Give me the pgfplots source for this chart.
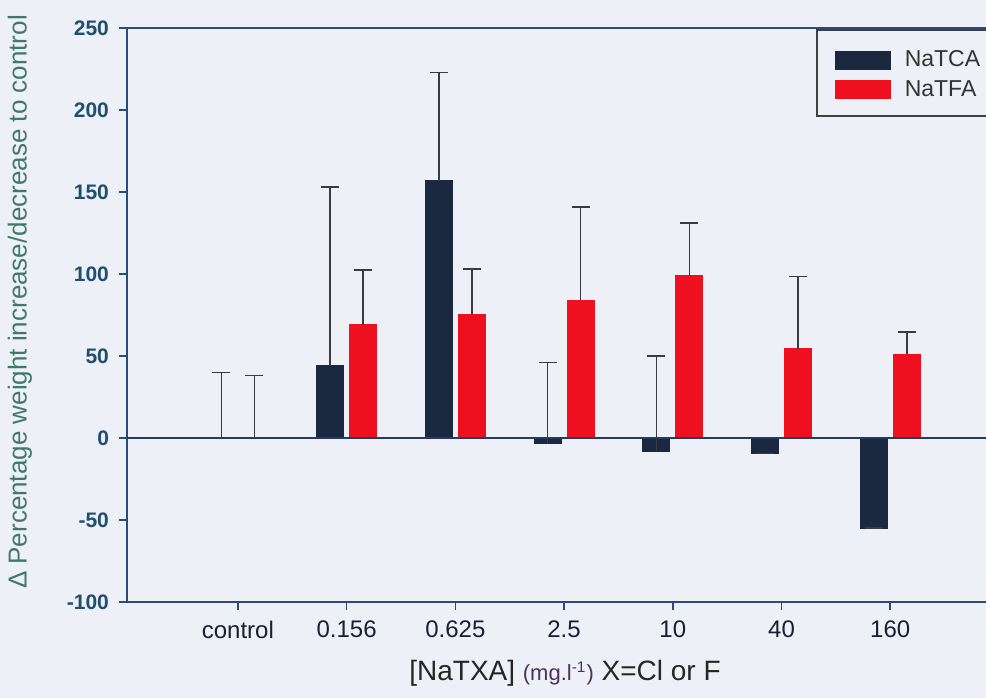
\documentclass[border=0pt]{standalone}
\usepackage{fontspec}
\setmainfont{Liberation Sans}
\usepackage{pgfplots}
\usepackage{pgfplotstable}
\pgfplotsset{compat=1.18}

\definecolor{bgc}{HTML}{EEF0F8}
\definecolor{navybar}{HTML}{1B2940}
\definecolor{redbar}{HTML}{EE0F1F}
\definecolor{errc}{HTML}{3A3A40}
\definecolor{axisc}{HTML}{2D4A7E}
\definecolor{ytickc}{HTML}{1F4F6F}
\definecolor{ylabc}{HTML}{3F7A68}
\definecolor{xtickc}{HTML}{1A2030}
\definecolor{unitc}{HTML}{4A3558}

% x = concentration group, y = % change, ey = upper error
\pgfplotstableread{
x y ey
0 0 40
1 44 109
2 157 66
3 -3.5 49.5
4 -8 58
5 -9.5 0
6 -55 0
}\tca
\pgfplotstableread{
x y ey
0 0 38
1 69 33.5
2 75.5 27.5
3 84 57
4 99 32
5 54.5 44
6 51 13.5
}\tfa

\begin{document}
\begin{tikzpicture}
\fill[bgc] (-63.5pt,-48pt) rectangle (429.5pt,301pt);
\begin{axis}[
    scale only axis,
    width=430pt, height=287pt,
    xmin=-1.02, xmax=6.89,
    ymin=-100, ymax=250,
    ytick={-100,-50,0,50,100,150,200,250},
    xtick={0,...,6},
    xticklabels={control,0.156,0.625,2.5,10,40,160},
    axis x line*=box,
    axis y line*=left,
    xtick pos=bottom, ytick pos=left,
    tick align=outside,
    major tick length=4pt,
    axis line style={draw=axisc, line width=1pt},
    tick style={draw=axisc, line width=0.8pt},
    yticklabel style={font=\fontsize{10.5}{12}\selectfont\bfseries, text=ytickc, xshift=-1.5pt},
    xticklabel style={font=\fontsize{12}{14}\selectfont, text=xtickc, yshift=-2pt},
    /pgf/number format/assume math mode=true,
    ylabel={Δ Percentage weight increase/decrease to control},
    ylabel style={at={(axis description cs:-0.1244,0.5226)}, anchor=center,
        font=\fontsize{13}{15}\selectfont, text=ylabc},
    xlabel={[NaTXA] {\fontsize{11}{13}\selectfont\color{unitc}(mg.l\textsuperscript{-1})} X=Cl or F},
    xlabel style={at={(axis description cs:0.5093,-0.1359)}, anchor=base,
        font=\fontsize{14}{16}\selectfont, text=black!85},
    ybar,
    bar width=0.248,
    legend style={at={(axis description cs:0.8023,0.9965)}, anchor=north west,
        draw=none, fill=none,
        font=\fontsize{11.5}{13}\selectfont, text=black!80,
        inner xsep=9pt, inner ysep=10pt, row sep=5.25pt,
        nodes={inner sep=0pt, text height=8.2pt, text depth=0.3pt}},
    legend cell align=left,
    clip=false,
]
\addplot[fill=navybar, draw=navybar, bar shift=-0.152,
    error bars/.cd, y dir=plus, y explicit,
    error bar style={line width=0.75pt, draw=errc},
    error mark options={rotate=90, mark size=4.5pt, line width=0.75pt, draw=errc},
    /pgfplots/legend image code/.code={\fill[navybar] (0pt,-5pt) rectangle (27.5pt,3.75pt);
        \path[draw=none, fill=none] (0pt,0pt) rectangle (34.5pt,0.1pt);}]
    table[x=x, y=y, y error plus=ey] {\tca};
\addlegendentry{NaTCA}
\addplot[fill=redbar, draw=redbar, bar shift=0.152,
    error bars/.cd, y dir=plus, y explicit,
    error bar style={line width=0.75pt, draw=errc},
    error mark options={rotate=90, mark size=4.5pt, line width=0.75pt, draw=errc},
    /pgfplots/legend image code/.code={\fill[redbar] (0pt,-5pt) rectangle (27.5pt,3.75pt);
        \path[draw=none, fill=none] (0pt,0pt) rectangle (34.5pt,0.1pt);}]
    table[x=x, y=y, y error plus=ey] {\tfa};
\addlegendentry{NaTFA}
\draw[axisc!80!black, line width=0.75pt] (axis cs:-1.02,0) -- (axis cs:6.89,0);
% legend frame, running past the cropped right edge
\draw[black!75, line width=0.6pt]
    (axis description cs:1.02,0.9965) -- (axis description cs:0.8023,0.9965)
    -- (axis description cs:0.8023,0.8467) -- (axis description cs:1.02,0.8467);
\end{axis}
\pgfresetboundingbox
\path[use as bounding box] (-63.5pt,-48pt) rectangle (429.5pt,301pt);
\end{tikzpicture}
\end{document}
